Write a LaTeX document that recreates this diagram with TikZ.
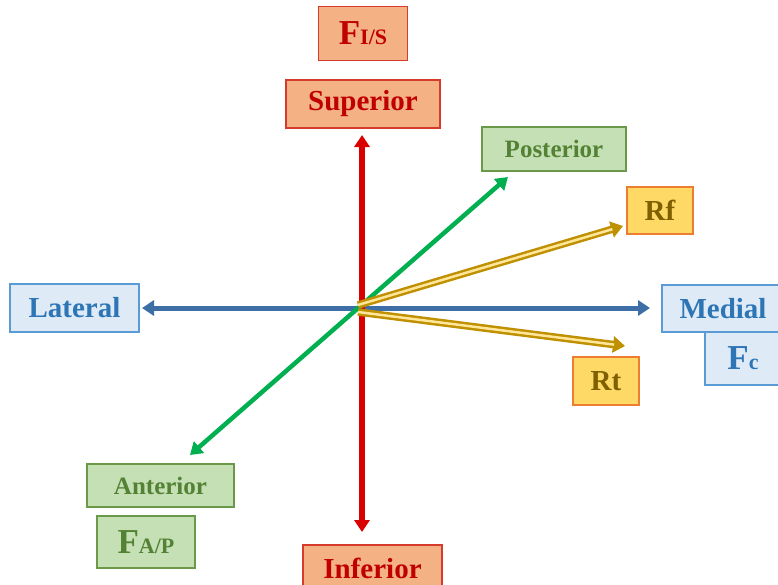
\documentclass[tikz,border=0pt]{standalone}
\usepackage{fontspec}
\setmainfont{Liberation Serif}
\usetikzlibrary{arrows.meta}
\definecolor{redline}{HTML}{D90000}
\definecolor{redfill}{HTML}{F4B183}
\definecolor{redbord}{HTML}{D63A2A}
\definecolor{redtext}{HTML}{C00000}
\definecolor{grnline}{HTML}{00B050}
\definecolor{grnfill}{HTML}{C5E0B4}
\definecolor{grnbord}{HTML}{6A9A48}
\definecolor{grntext}{HTML}{548235}
\definecolor{bluline}{HTML}{3D6FA6}
\definecolor{blufill}{HTML}{DEEBF7}
\definecolor{blubord}{HTML}{5B9BD5}
\definecolor{blutext}{HTML}{2E75B6}
\definecolor{gldline}{HTML}{BF9000}
\definecolor{gldin}{HTML}{FFE699}
\definecolor{gldfill}{HTML}{FFD966}
\definecolor{gldbord}{HTML}{ED7D31}
\definecolor{gldtext}{HTML}{7F6000}
\tikzset{
  lbl/.style={draw, line width=1.5pt, inner sep=0pt, align=center, font=\bfseries\fontsize{29}{29}\selectfont},
  redbox/.style={lbl, fill=redfill, draw=redbord, text=redtext},
  grnbox/.style={lbl, fill=grnfill, draw=grnbord, text=grntext},
  blubox/.style={lbl, fill=blufill, draw=blubord, text=blutext},
  gldbox/.style={lbl, fill=gldfill, draw=gldbord, text=gldtext},
  small/.style={font=\bfseries\fontsize{25}{25}\selectfont},
  axis/.style={line width=#1, {Triangle[length=12pt,width=15pt]}-{Triangle[length=12pt,width=15pt]}},
  force/.style={gldline, line width=7.5pt, -{Triangle[length=12pt,width=16pt]}},
  forcein/.style={gldin, line width=2.5pt, shorten >=11pt},
}
\newcommand{\bigF}[1]{{\fontsize{35}{35}\selectfont F}{\fontsize{22}{22}\selectfont #1}}
\begin{document}
\begin{tikzpicture}[x=1pt,y=-1pt]
\useasboundingbox (0,0) rectangle (778,584);
\fill[white] (0,0) rectangle (778,584);

% labels
\node[redbox, minimum width=89pt, minimum height=54pt] (fis) at (363,33.5) {\bigF{I/S}};
\node[redbox, minimum width=154pt, minimum height=48pt] (sup) at (363,104) {Superior};
\node[redbox, minimum width=139pt, minimum height=46pt] (inf) at (372.5,568) {Inferior};
\node[grnbox, small, minimum width=144pt, minimum height=44pt] (post) at (554,149) {Posterior};
\node[grnbox, small, minimum width=147pt, minimum height=43pt] (ant) at (160.5,485.5) {Anterior};
\node[grnbox, minimum width=98pt, minimum height=52pt] (fap) at (146,542) {\bigF{A/P}};
\node[blubox, minimum width=129pt, minimum height=48pt] (lat) at (74.5,308) {Lateral};
\node[blubox, minimum width=122pt, minimum height=47pt] (med) at (723,308.5) {Medial};
\node[blubox, minimum width=76pt, minimum height=53pt] (fc) at (743,358.5) {\bigF{c}};
\node[gldbox, minimum width=66pt, minimum height=47pt] (rf) at (660,210.5) {Rf};
\node[gldbox, minimum width=66pt, minimum height=48pt] (rt) at (606,381) {Rt};

% arrow end points
\coordinate (o) at (360,308);
\coordinate (redtop) at (362,135);
\coordinate (redbot) at (362,532);
\coordinate (blul) at (142,308);
\coordinate (blur) at (650,308);
\coordinate (grna) at (190,455);
\coordinate (grnp) at (508,177);
\coordinate (rfo) at (358,305);
\coordinate (rfe) at (623,226);
\coordinate (rto) at (358,312);
\coordinate (rte) at (625,346);

% axes
\draw[bluline, axis=5pt] (blul) -- (blur);
\draw[redline, axis=6.5pt] (redbot) -- (redtop);
\draw[grnline, axis=4.5pt] (grna) -- (grnp);

% reaction forces (double lines)
\draw[force] (rfo) -- (rfe);
\draw[forcein] (rfo) -- (rfe);
\draw[force] (rto) -- (rte);
\draw[forcein] (rto) -- (rte);
\end{tikzpicture}
\end{document}
